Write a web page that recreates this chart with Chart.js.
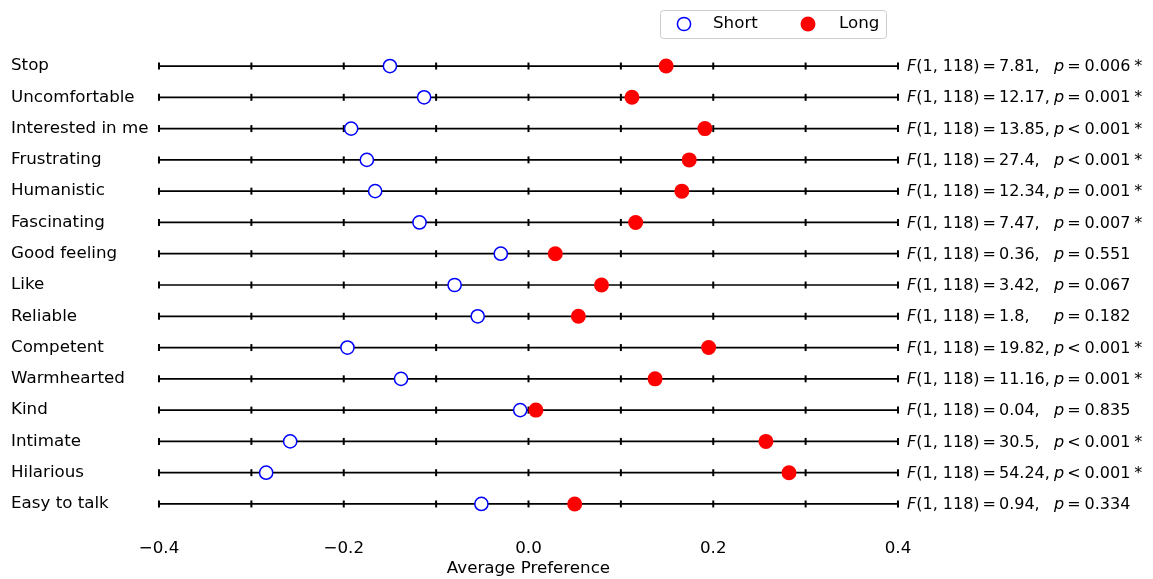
<!DOCTYPE html>
<html>
<head>
<meta charset="utf-8">
<script src="https://cdn.jsdelivr.net/npm/chart.js@4"></script>
<style>
  html, body { margin: 0; padding: 0; background: #fff; }
  #wrap { width: 1153px; height: 579px; }
</style>
</head>
<body>
<div id="wrap"><canvas id="myChart"></canvas></div>
<script>
// data
var categories = ['Stop', 'Uncomfortable', 'Interested in me', 'Frustrating', 'Humanistic',
  'Fascinating', 'Good feeling', 'Like', 'Reliable', 'Competent', 'Warmhearted', 'Kind',
  'Intimate', 'Hilarious', 'Easy to talk'];
var shortVals = [-0.150, -0.113, -0.192, -0.175, -0.166, -0.118, -0.030, -0.080, -0.055,
  -0.196, -0.138, -0.009, -0.258, -0.284, -0.051];
var longVals = [0.149, 0.112, 0.191, 0.174, 0.166, 0.116, 0.029, 0.079, 0.054,
  0.195, 0.137, 0.008, 0.257, 0.282, 0.050];

// stats shown at the right of every row
var fValues = ['7.81', '12.17', '13.85', '27.4', '12.34', '7.47', '0.36', '3.42', '1.8',
  '19.82', '11.16', '0.04', '30.5', '54.24', '0.94'];
var pSigns = ['=', '=', '<', '<', '=', '=', '=', '=', '=', '<', '=', '=', '<', '<', '='];
var pValues = ['0.006', '0.001', '0.001', '0.001', '0.001', '0.007', '0.551', '0.067', '0.182',
  '0.001', '0.001', '0.835', '0.001', '0.001', '0.334'];
var starred = [true, true, true, true, true, true, false, false, false, true, true, false, true, true, false];

var xTickValues = [-0.4, -0.2, 0, 0.2, 0.4];
var xTickLabels = ['\u22120.4', '\u22120.2', '0.0', '0.2', '0.4'];
var rowTicks = [-0.4, -0.3, -0.2, -0.1, 0, 0.1, 0.2, 0.3, 0.4];

var FONT = "'DejaVu Sans', sans-serif";
var FSIZE = 16.7;
var STAT_SIZE = 16;
Chart.defaults.font.family = FONT;
Chart.defaults.font.size = FSIZE;
Chart.defaults.color = '#000';

var datasets = [];

datasets.push({
  label: 'Long',
  data: longVals.map(function (v, i) { return { x: v, y: categories[i] }; }),
  pointStyle: 'circle',
  pointRadius: 7.5,
  pointBackgroundColor: '#ff0000',
  pointBorderColor: '#ff0000',
  pointBorderWidth: 0,
  order: 0
});
datasets.push({
  label: 'Short',
  data: shortVals.map(function (v, i) { return { x: v, y: categories[i] }; }),
  pointStyle: 'circle',
  pointRadius: 6.6,
  pointBackgroundColor: '#ffffff',
  pointBorderColor: '#0000ff',
  pointBorderWidth: 1.5,
  order: 1
});

// small tick marks on every row line
var tickPts = [];
categories.forEach(function (c) {
  rowTicks.forEach(function (t) { tickPts.push({ x: t, y: c }); });
});
datasets.push({
  label: 'ticks',
  data: tickPts,
  pointStyle: 'line',
  rotation: 90,
  pointRadius: 3.5,
  pointBorderColor: '#000',
  pointBorderWidth: 2,
  order: 2
});

// one horizontal line per row
categories.forEach(function (c) {
  datasets.push({
    label: 'line',
    data: [{ x: rowTicks[0], y: c }, { x: rowTicks[rowTicks.length - 1], y: c }],
    showLine: true,
    borderColor: '#000',
    borderWidth: 1.7,
    pointRadius: 0,
    order: 3
  });
});

// draws text pieces one after another, gap = px after each piece
function drawPieces(ctx, pieces, x, y) {
  pieces.forEach(function (p) {
    ctx.font = (p.italic ? 'italic ' : '') + STAT_SIZE + 'px ' + FONT;
    ctx.fillText(p.t, x, y);
    x += ctx.measureText(p.t).width + (p.gap || 0);
  });
  return x;
}

var statsText = {
  id: 'statsText',
  afterDatasetsDraw: function (chart) {
    var ctx = chart.ctx;
    var area = chart.chartArea;
    var ys = chart.scales.y;
    ctx.save();
    ctx.fillStyle = '#000';
    ctx.textBaseline = 'middle';
    ctx.textAlign = 'left';
    categories.forEach(function (c, i) {
      var y = ys.getPixelForValue(i) + 1;
      drawPieces(ctx, [
        { t: 'F', italic: true },
        { t: '(1, 118)', gap: 3 },
        { t: '=', gap: 3 },
        { t: fValues[i] + ',' }
      ], area.right + 9, y);
      var end = drawPieces(ctx, [
        { t: 'p', italic: true, gap: 3 },
        { t: pSigns[i], gap: 4 },
        { t: pValues[i] }
      ], area.right + 156, y);
      if (starred[i]) {
        ctx.font = STAT_SIZE + 'px ' + FONT;
        ctx.fillText('*', end + 4, y);
      }
    });
    ctx.restore();
  }
};

var legendBox = {
  id: 'legendBox',
  afterDraw: function (chart) {
    var ctx = chart.ctx;
    var area = chart.chartArea;
    var w = 226, h = 28;
    var left = area.right - 12 - w, top = 10;
    var cy = top + h / 2;
    ctx.save();
    ctx.strokeStyle = '#cccccc';
    ctx.lineWidth = 1;
    ctx.beginPath();
    ctx.roundRect(left + 0.5, top + 0.5, w, h, 3);
    ctx.stroke();

    ctx.beginPath();
    ctx.arc(left + 24, cy, 6.6, 0, Math.PI * 2);
    ctx.fillStyle = '#fff';
    ctx.fill();
    ctx.strokeStyle = '#0000ff';
    ctx.lineWidth = 1.5;
    ctx.stroke();

    ctx.beginPath();
    ctx.arc(left + 148, cy, 7.5, 0, Math.PI * 2);
    ctx.fillStyle = '#ff0000';
    ctx.fill();

    ctx.fillStyle = '#000';
    ctx.font = FSIZE + 'px ' + FONT;
    ctx.textBaseline = 'middle';
    ctx.textAlign = 'left';
    ctx.fillText('Short', left + 53, cy);
    ctx.fillText('Long', left + 179, cy);
    ctx.restore();
  }
};

var ctx = document.getElementById('myChart').getContext('2d');
var chart = new Chart(ctx, {
  type: 'scatter',
  data: { datasets: datasets },
  options: {
    responsive: true,
    maintainAspectRatio: false,
    animation: false,
    devicePixelRatio: 1,
    clip: false,
    layout: { padding: { left: 11, right: 255, top: 50.4, bottom: 0 } },
    plugins: {
      legend: { display: false },
      tooltip: { enabled: false }
    },
    scales: {
      x: {
        type: 'linear',
        min: -0.4,
        max: 0.4,
        grid: { display: false, drawTicks: false },
        border: { display: false },
        afterBuildTicks: function (scale) {
          scale.ticks = xTickValues.map(function (v) { return { value: v }; });
        },
        ticks: {
          padding: 19,
          callback: function (v, idx) { return xTickLabels[idx]; }
        },
        title: {
          display: true,
          text: 'Average Preference',
          padding: { top: 0, bottom: 0.4 }
        },
        afterFit: function (scale) { scale.height = 59.4; }
      },
      y: {
        type: 'category',
        labels: categories,
        offset: true,
        grid: { display: false, drawTicks: false },
        border: { display: false },
        ticks: { crossAlign: 'far', padding: 0 },
        afterFit: function (scale) { scale.width = 148; }
      }
    }
  },
  plugins: [statsText, legendBox]
});
</script>
</body>
</html>
